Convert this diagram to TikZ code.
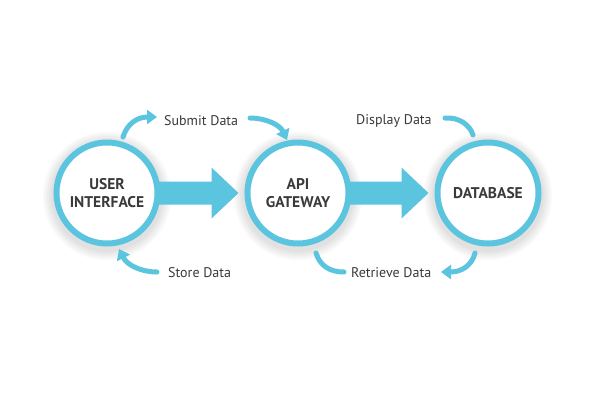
\documentclass[tikz,border=0pt]{standalone}
\usepackage{fontspec}
\setmainfont{PT Sans}
\usetikzlibrary{arrows.meta,calc}
\definecolor{accent}{HTML}{5BC4DE}
\definecolor{ink}{HTML}{3A3A3A}
\tikzset{
  stage/.style={circle, draw=accent, line width=6pt, fill=white, minimum size=101pt, inner sep=0pt,
    align=center, text=ink, font=\fontsize{15.5}{18}\selectfont\bfseries},
  glow/.style={fill=black, fill opacity=0.025},
  lbl/.style={text=ink, font=\fontsize{14}{16}\selectfont, inner sep=0pt},
  curv/.style={draw=accent, line width=5pt, line cap=round},
  curvhead/.style={curv, -{Triangle[length=10pt,width=14pt]}},
  bigarrow/.style={fill=accent}
}
\begin{document}
\begin{tikzpicture}[x=1pt,y=-1pt]
\useasboundingbox (0,0) rectangle (600,400);
\fill[white] (0,0) rectangle (600,400);

% soft shadows
\foreach \cx in {107,298,488}{
  \foreach \r in {56,58,60,62,64}{
    \fill[glow] (\cx,196) circle[radius=\r];
  }
}

\node[stage] (ui) at (107,193) {USER\\INTERFACE};
\node[stage] (api) at (298,193) {API\\GATEWAY};
\node[stage] (db) at (488,193) {DATABASE};

% big arrows
\coordinate (s1) at ($(ui.east)+(-4,0)$);
\coordinate (t1) at ($(api.west)+(-6,0)$);
\fill[bigarrow] ($(s1)+(0,-11.5)$) -- ($(t1)+(-27,-11.5)$) -- ($(t1)+(-27,-25.5)$) -- (t1)
  -- ($(t1)+(-27,25.5)$) -- ($(t1)+(-27,11.5)$) -- ($(s1)+(0,11.5)$) -- cycle;
\coordinate (s2) at ($(api.east)+(-4,0)$);
\coordinate (t2) at ($(db.west)+(-6,0)$);
\fill[bigarrow] ($(s2)+(0,-11.5)$) -- ($(t2)+(-27,-11.5)$) -- ($(t2)+(-27,-25.5)$) -- (t2)
  -- ($(t2)+(-27,25.5)$) -- ($(t2)+(-27,11.5)$) -- ($(s2)+(0,11.5)$) -- cycle;

% labels
\node[lbl, anchor=west] (submit) at (164,120.5) {Submit Data};
\node[lbl, anchor=west] (display) at (356,120.5) {Display Data};
\node[lbl, anchor=west] (store) at (168,272.5) {Store Data};
\node[lbl, anchor=west] (retrieve) at (351,272.5) {Retrieve Data};

% curved connectors
\coordinate (a1) at (123,137);
\coordinate (a1e) at (157,117);
\draw[curvhead] (a1) .. controls (127,124) and (137,117) .. (a1e);
\coordinate (a2) at (250,118);
\coordinate (a2e) at (287,140);
\draw[curvhead] (a2) .. controls (266,118) and (280,125) .. (a2e);
\coordinate (a3) at (445,118);
\coordinate (a3e) at (473,135);
\draw[curv] (a3) .. controls (459,117) and (470,125) .. (a3e);
\coordinate (a4) at (475,253);
\coordinate (a4e) at (441,272);
\draw[curvhead] (a4) .. controls (472,265) and (462,272) .. (a4e);
\coordinate (a5) at (316,253);
\coordinate (a5e) at (344,272);
\draw[curv] (a5) .. controls (320,266) and (330,272) .. (a5e);
\coordinate (a6) at (157,272);
\coordinate (a6e) at (119,249);
\draw[curvhead] (a6) .. controls (141,272) and (127,265) .. (a6e);
\end{tikzpicture}
\end{document}
